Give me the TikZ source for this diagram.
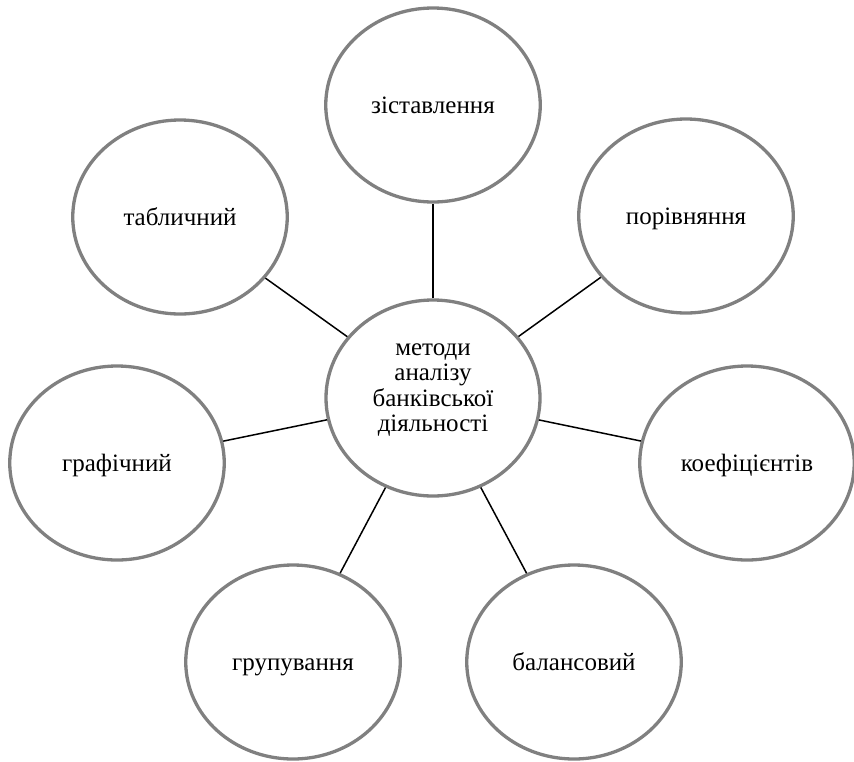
\documentclass[tikz,border=0pt]{standalone}
\usepackage{fontspec}
\setmainfont{Liberation Serif}
\usetikzlibrary{shapes.geometric}
\definecolor{ringgray}{HTML}{808080}
\tikzset{
  bubble/.style={ellipse, draw=ringgray, line width=3.3pt, fill=white,
    minimum width=214.5pt, minimum height=194pt, inner sep=0pt,
    font=\fontsize{25}{25.3}\selectfont, text height=17.2pt, text depth=0pt},
  hubbubble/.style={ellipse, draw=ringgray, line width=3.3pt, fill=white,
    minimum width=214pt, minimum height=196pt, inner sep=0pt},
  bubbletext/.style={inner sep=0pt, font=\fontsize{25}{25.3}\selectfont, align=center},
  link/.style={draw=black, line width=1.5pt}
}
\begin{document}
\begin{tikzpicture}[x=1pt,y=-1pt]
\useasboundingbox (0,0) rectangle (854,761);
\node[hubbubble] (hub) at (433,398) {};
\node[bubbletext] (hubtext) at ([yshift=8pt]hub.center) {методи\\аналізу\\банківської\\діяльності};
\node[bubble] (zist) at (433,105) {зіставлення};
\node[bubble] (porivn) at (686,216) {порівняння};
\node[bubble] (koef) at (747,463) {коефіцієнтів};
\node[bubble] (balans) at (574,662) {балансовий};
\node[bubble] (grup) at (293,662) {групування};
\node[bubble] (graf) at (117,463) {графічний};
\node[bubble] (tabl) at (180,217) {табличний};
\foreach \n in {zist,porivn,koef,balans,grup,graf,tabl}
  \draw[link] (hub) -- (\n);
\end{tikzpicture}
\end{document}
